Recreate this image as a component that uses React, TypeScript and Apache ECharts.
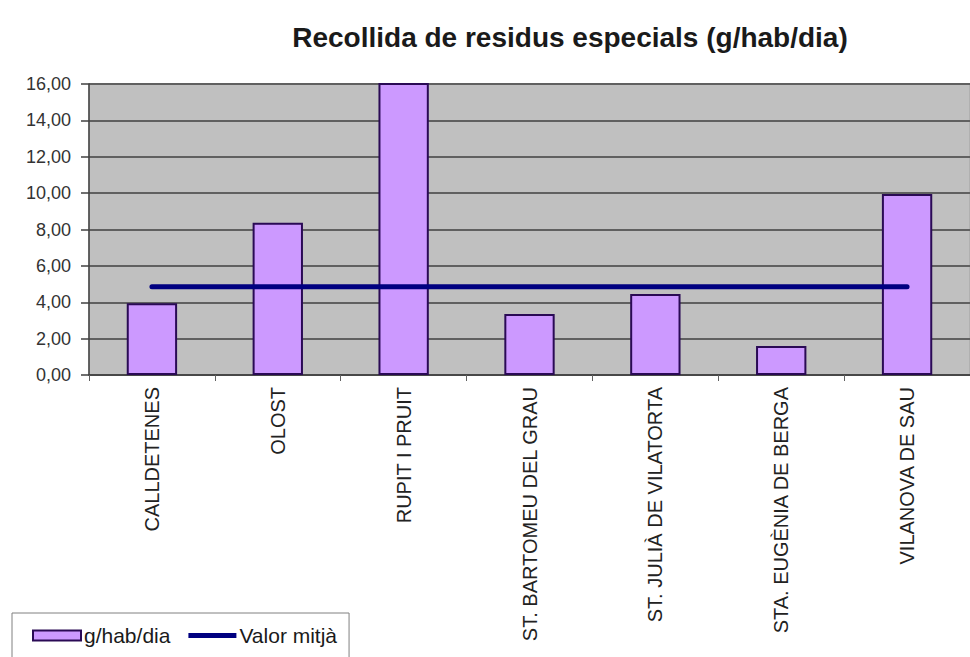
import React, { useEffect, useRef } from "react";
import * as echarts from "echarts";

const categories = [
  "CALLDETENES",
  "OLOST",
  "RUPIT I PRUIT",
  "ST. BARTOMEU DEL GRAU",
  "ST. JULIÀ DE VILATORTA",
  "STA. EUGÈNIA DE BERGA",
  "VILANOVA DE SAU",
];
const barValues = [3.95, 8.37, 17.6, 3.35, 4.45, 1.59, 9.95];
const meanValues = [4.85, 4.85, 4.85, 4.85, 4.85, 4.85, 4.85];
const barName = "g/hab/dia";
const lineName = "Valor mitjà";
const titleText = "Recollida de residus especials (g/hab/dia)";

export default function App() {
  const ref = useRef<HTMLDivElement>(null);
  useEffect(() => {
    if (!ref.current) return;
    const chart = echarts.init(ref.current, undefined, { renderer: "svg" });
    const font = "Arial, 'Liberation Sans', sans-serif";
    chart.setOption({
      animation: false,
      backgroundColor: "#ffffff",
      title: {
        text: titleText,
        left: 565,
        textAlign: "center",
        top: 18,
        textStyle: { fontFamily: font, fontSize: 28, fontWeight: "bold", color: "#1a1a1a" },
      },
      grid: { left: 89, right: -7, top: 84, bottom: 282, backgroundColor: "#c0c0c0", show: true, borderColor: "#a0a0a0", borderWidth: 1 },
      legend: {
        left: 12,
        top: 613,
        orient: "horizontal",
        padding: [12, 12, 20, 20],
        itemGap: 18,
        itemWidth: 48,
        itemHeight: 10,
        borderColor: "#808080",
        borderWidth: 1,
        textStyle: { fontFamily: font, fontSize: 21, color: "#1a1a1a", padding: [0, 0, 0, -2] },
        data: [
          { name: barName, icon: "rect" },
          { name: lineName, icon: "path://M0,0 L48,0 L48,5 L0,5 Z", itemStyle: { color: "#000080", borderWidth: 0 } },
        ],
      },
      xAxis: {
        type: "category",
        data: categories,
        boundaryGap: true,
        axisLine: { show: true, lineStyle: { color: "#404040", width: 1.5 } },
        axisTick: { show: true, length: 6, alignWithLabel: false, lineStyle: { color: "#606060" } },
        axisLabel: {
          rotate: 90,
          margin: 12,
          interval: 0,
          fontFamily: font,
          fontSize: 20,
          color: "#222222",
        },
        splitLine: { show: false },
      },
      yAxis: {
        type: "value",
        min: 0,
        max: 16,
        interval: 2,
        axisLine: { show: true, lineStyle: { color: "#404040", width: 1.5 } },
        axisTick: { show: true, length: 8, inside: false, lineStyle: { color: "#404040", width: 1.5 } },
        axisLabel: {
          margin: 18,
          fontFamily: font,
          fontSize: 18,
          color: "#333333",
          formatter: (v: number) => v.toFixed(2).replace(".", ","),
        },
        splitLine: { show: true, lineStyle: { color: "#606060", width: 1.8 } },
      },
      series: [
        {
          name: barName,
          type: "bar",
          data: barValues,
          barWidth: "40%",
          clip: true,
          itemStyle: { color: "#cc99ff", borderColor: "#2a0a55", borderWidth: 2 },
        },
        {
          name: lineName,
          type: "line",
          data: meanValues,
          symbol: "none",
          showSymbol: false,
          lineStyle: { color: "#000080", width: 5, cap: "round" },
          itemStyle: { color: "#000080" },
        },
      ],
    });
    return () => chart.dispose();
  }, []);
  return (
    <div
      ref={ref}
      style={{ position: "fixed", left: 0, top: 0, width: 970, height: 657 }}
    />
  );
}
